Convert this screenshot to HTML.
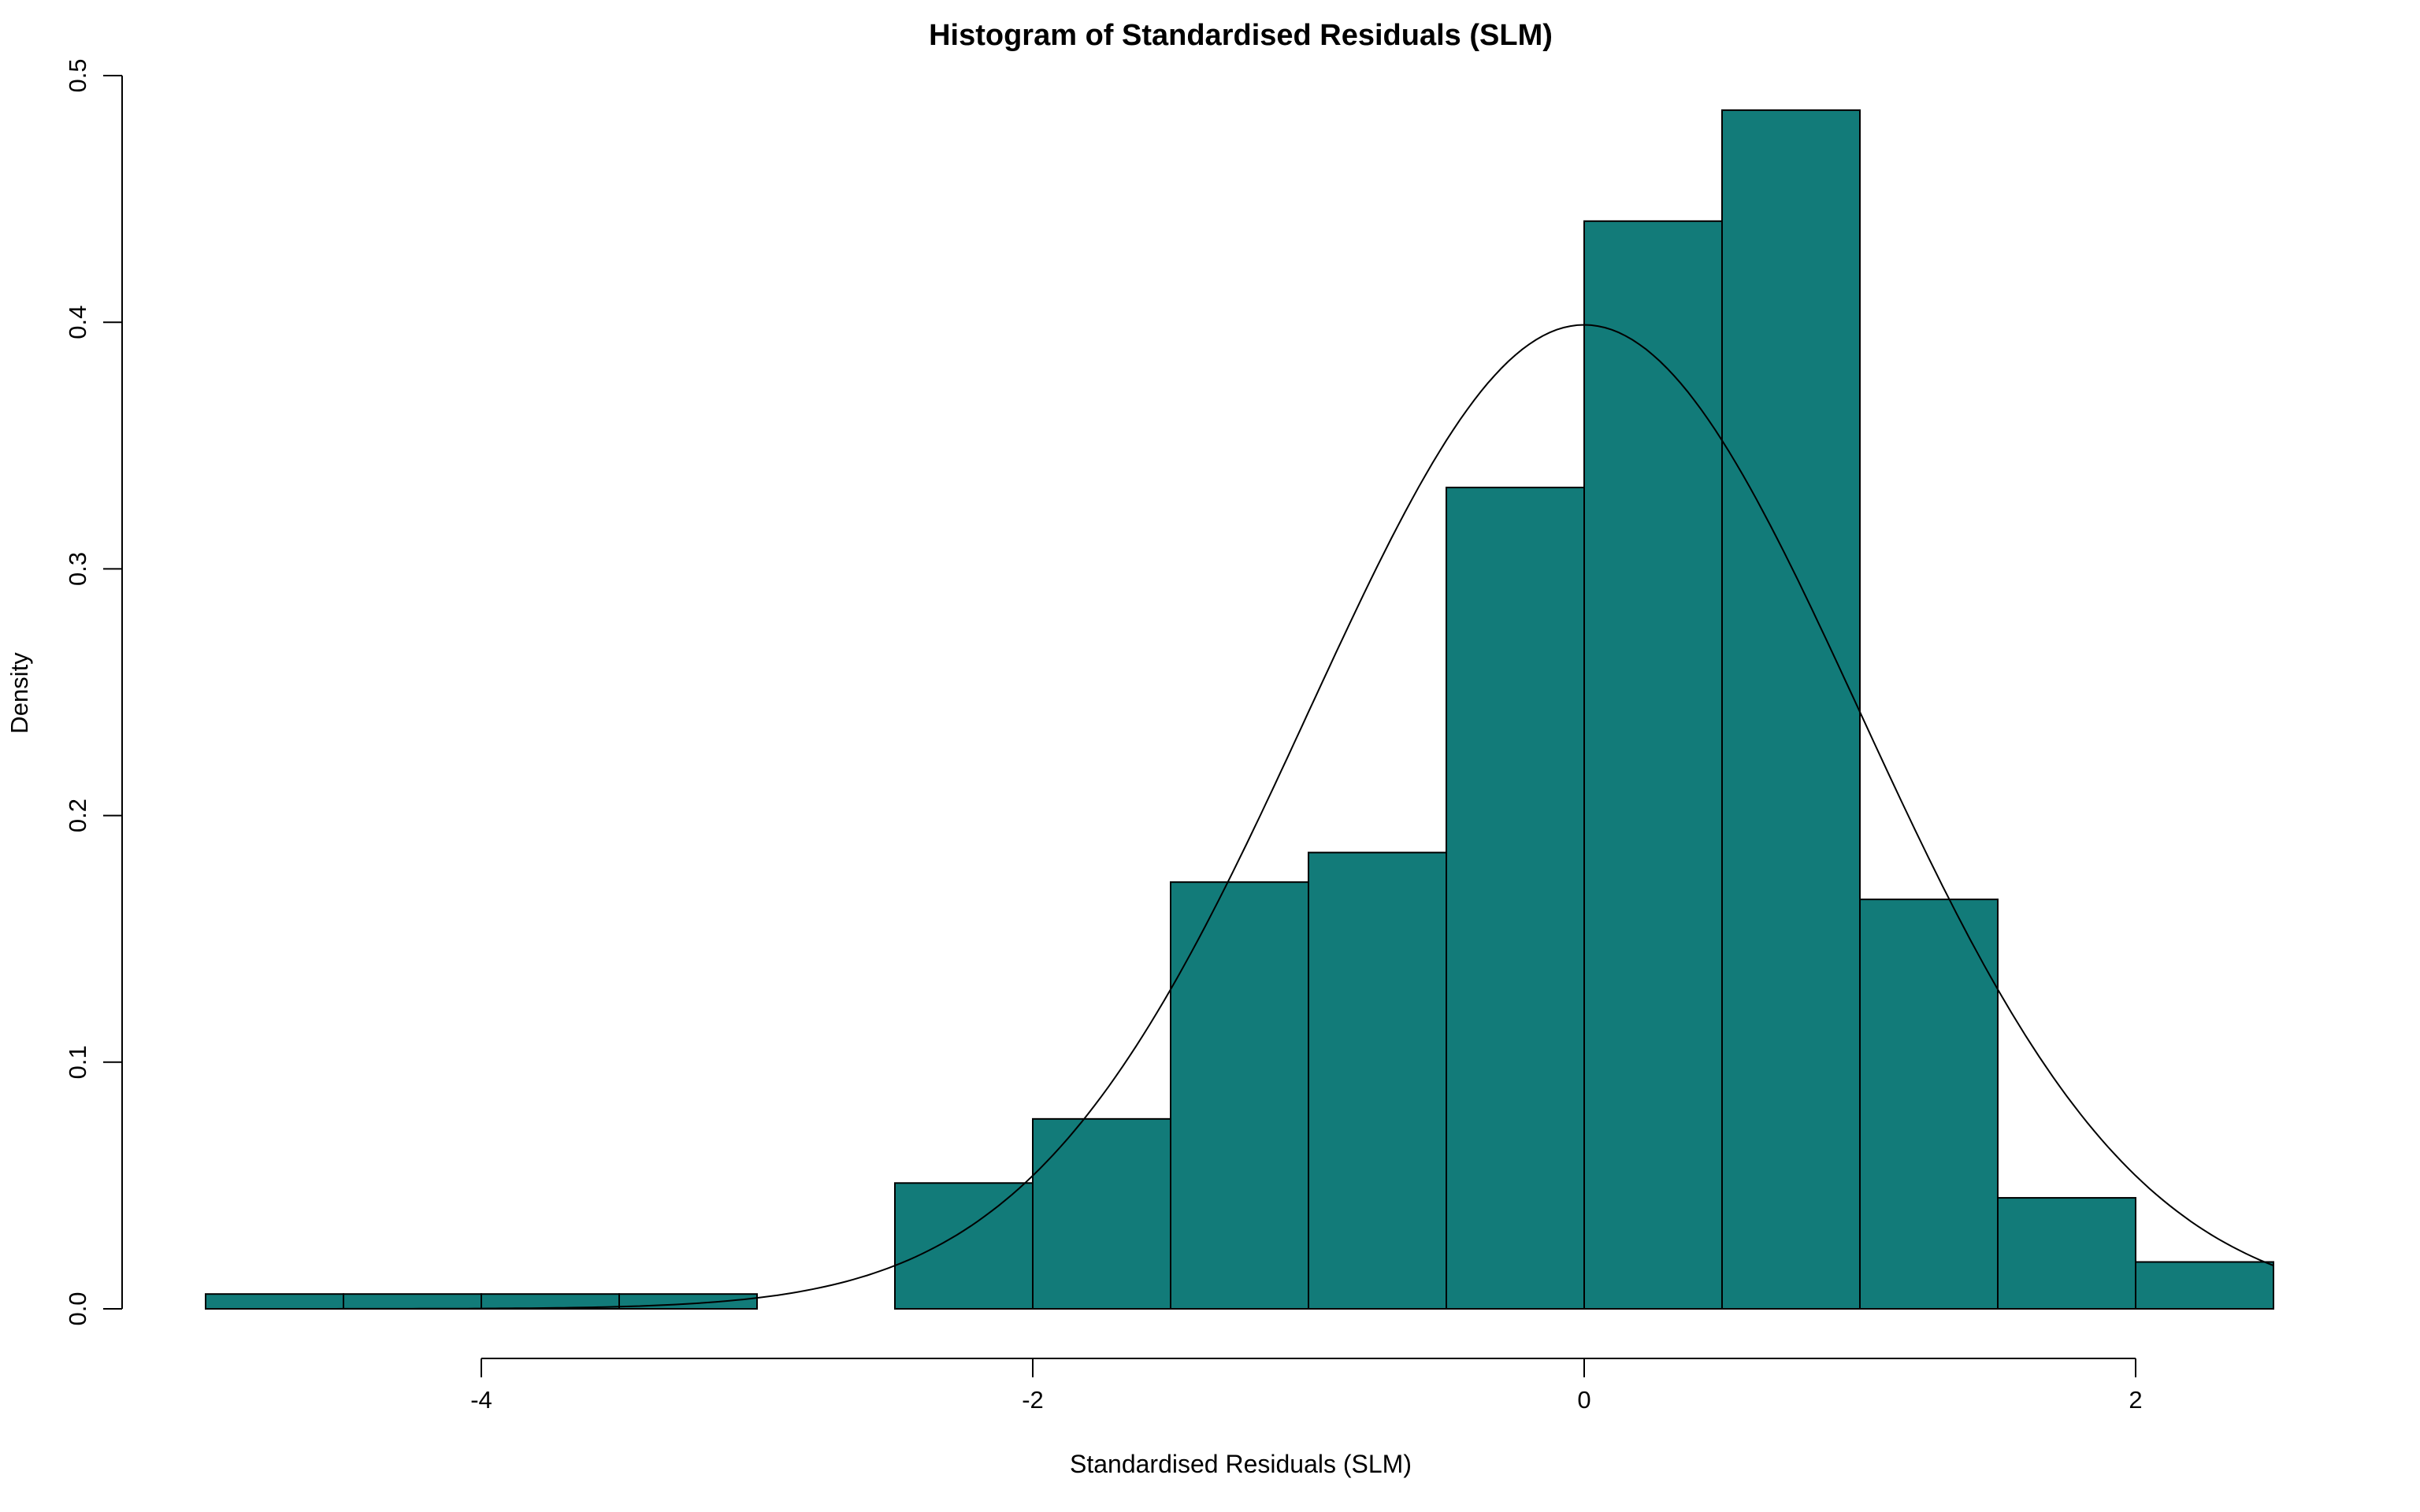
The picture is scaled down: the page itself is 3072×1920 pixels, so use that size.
<!DOCTYPE html>
<html><head><meta charset="utf-8"><style>
html,body{margin:0;padding:0;background:#fff}
svg{display:block;font-family:"Liberation Sans",Arial,sans-serif}
</style></head><body>
<svg id="chart" width="3072" height="1920" viewBox="0 0 3072 1920" xmlns="http://www.w3.org/2000/svg">
<text x="1575" y="57" font-size="38" font-weight="bold" text-anchor="middle">Histogram of Standardised Residuals (SLM)</text>
<text x="1575" y="1870" font-size="32" text-anchor="middle">Standardised Residuals (SLM)</text>
<text transform="translate(35,880) rotate(-90)" font-size="31" text-anchor="middle">Density</text>
<g id="bars"></g>
<path id="curve" fill="none" stroke="#000" stroke-width="2"/>
<g id="xaxis"></g>
<g id="yaxis"></g>
</svg>
<script>
const binStarts=[-5,-4.5,-4,-3.5,-3,-2.5,-2,-1.5,-1,-0.5,0,0.5,1,1.5,2];
const binWidth=0.5;
const densities=[0.006,0.006,0.006,0.006,0,0.051,0.077,0.173,0.185,0.333,0.441,0.486,0.166,0.045,0.019];
const xTicks=[-4,-2,0,2];
const yTicks=[0,0.1,0.2,0.3,0.4,0.5];
const yTickLabels=["0.0","0.1","0.2","0.3","0.4","0.5"];
const curveRange=[-5,2.5];
const NS="http://www.w3.org/2000/svg";
const X=v=>2011+v*350;
const Y=v=>1662-v*(1662-96)/0.5;
function mk(t,a,p){const e=document.createElementNS(NS,t);for(const k in a)e.setAttribute(k,a[k]);p.appendChild(e);return e;}
const bars=document.getElementById('bars');
binStarts.forEach((s,i)=>{
  if(densities[i]<=0)return;
  const r=mk('rect',{x:X(s),y:Y(densities[i]),width:X(s+binWidth)-X(s),height:Y(0)-Y(densities[i]),fill:'#127b79',stroke:'#000','stroke-width':2},bars);
  
  
});
let d='';
for(let k=0;k<=300;k++){const x=curveRange[0]+(curveRange[1]-curveRange[0])*k/300;const y=Math.exp(-x*x/2)/Math.sqrt(2*Math.PI);d+=(k?'L':'M')+X(x).toFixed(1)+','+Y(y).toFixed(1);}
document.getElementById('curve').setAttribute('d',d);
const xa=document.getElementById('xaxis');
const axY=1725;
mk('line',{x1:X(xTicks[0]),x2:X(xTicks[xTicks.length-1]),y1:axY,y2:axY,stroke:'#000','stroke-width':2},xa);
xTicks.forEach(t=>{
  mk('line',{x1:X(t),x2:X(t),y1:axY,y2:axY+24,stroke:'#000','stroke-width':2},xa);
  const tx=mk('text',{x:X(t),y:axY+63,'font-size':31,'text-anchor':'middle'},xa);
  tx.textContent=t<0?'-'+Math.abs(t):String(t);
  
  
});
const ya=document.getElementById('yaxis');
const axX=155;
mk('line',{x1:axX,x2:axX,y1:Y(yTicks[0]),y2:Y(yTicks[yTicks.length-1]),stroke:'#000','stroke-width':2},ya);
yTicks.forEach((t,i)=>{
  mk('line',{x1:axX-24,x2:axX,y1:Y(t),y2:Y(t),stroke:'#000','stroke-width':2},ya);
  const tx=mk('text',{transform:`translate(${axX-46},${Y(t)}) rotate(-90)`,'font-size':31,'text-anchor':'middle'},ya);
  tx.textContent=yTickLabels[i];
  
  
});
</script>
</body></html>
